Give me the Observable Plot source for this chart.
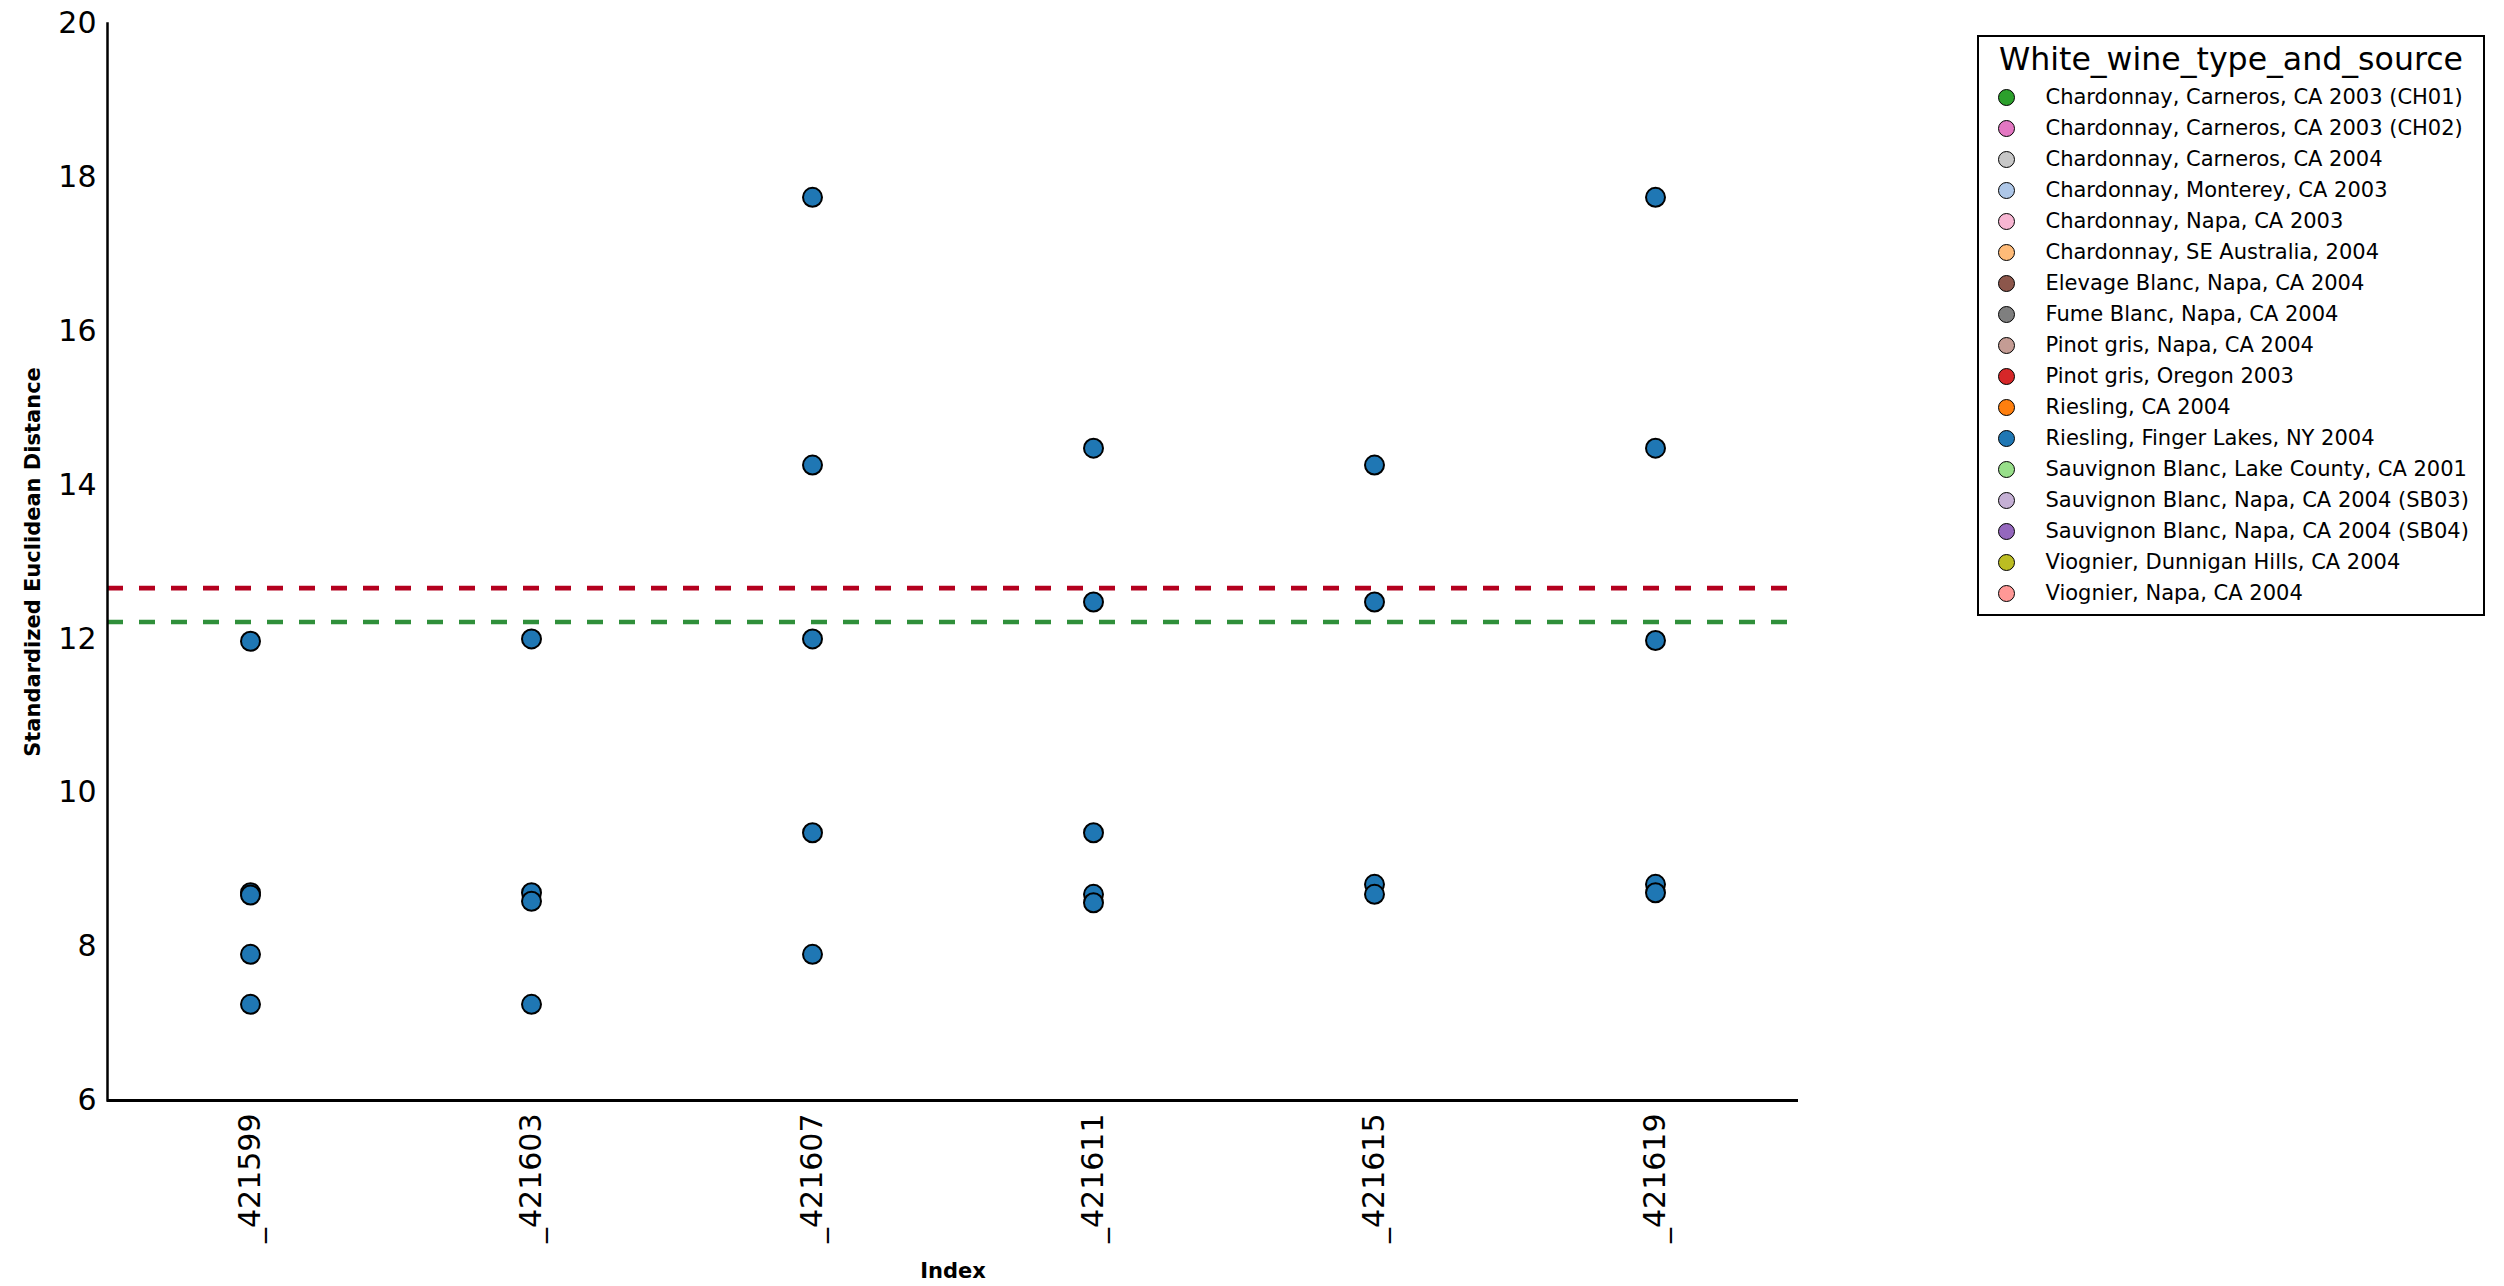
<!DOCTYPE html>
<html>
<head>
<meta charset="utf-8">
<script src="https://cdn.jsdelivr.net/npm/d3@7"></script>
<script src="https://cdn.jsdelivr.net/npm/@observablehq/plot@0.6"></script>
<style>
  html, body { margin: 0; padding: 0; background: #fff; }
  #wrap { position: relative; width: 2504px; height: 1286px; font-family: "DejaVu Sans", sans-serif; color: #000; }
  #chart { position: absolute; left: 0; top: 0; }
  #chart svg { font-family: "DejaVu Sans", sans-serif; }
  #chart g[aria-label="y-axis label"] text,
  #chart g[aria-label="x-axis label"] text { font-size: 21px; font-weight: bold; }
  #legend { position: absolute; left: 1977px; top: 35px; width: 508px; height: 581px; box-sizing: border-box;
            border: 2.5px solid #000; background: #fff; }
  #legend .title { margin-top: 1px; height: 42px; line-height: 42px; text-align: center; font-size: 31.6px; white-space: nowrap; }
  #legend .rows { margin-top: 2px; }
  #legend .row { height: 31px; line-height: 31px; font-size: 21px; white-space: nowrap; display: flex; align-items: center; }
  #legend .sw { display: inline-block; width: 15px; height: 15px; border: 1px solid #000; border-radius: 50%;
                margin-left: 19px; margin-right: 30.5px; flex: none; }
</style>
</head>
<body>
<div id="wrap">
  <div id="chart"></div>
  <div id="legend"></div>
</div>
<script>
// Categories (x tick labels)
const indices = ["_421599", "_421603", "_421607", "_421611", "_421615", "_421619"];

// Standardized Euclidean distances per index
const dist_421599 = [11.97, 8.70, 8.67, 7.90, 7.25];
const dist_421603 = [12.00, 8.70, 8.59, 7.25];
const dist_421607 = [17.74, 14.26, 12.00, 9.48, 7.90];
const dist_421611 = [14.48, 12.48, 9.48, 8.68, 8.57];
const dist_421615 = [14.26, 12.48, 8.81, 8.68];
const dist_421619 = [17.74, 14.48, 11.98, 8.81, 8.70];

// Wine type of every plotted sample
const sampleWine = "Riesling, Finger Lakes, NY 2004";

// Legend categories and colours
const wineTypes = [
  "Chardonnay, Carneros, CA 2003 (CH01)",
  "Chardonnay, Carneros, CA 2003 (CH02)",
  "Chardonnay, Carneros, CA 2004",
  "Chardonnay, Monterey, CA 2003",
  "Chardonnay, Napa, CA 2003",
  "Chardonnay, SE Australia, 2004",
  "Elevage Blanc, Napa, CA 2004",
  "Fume Blanc, Napa, CA 2004",
  "Pinot gris, Napa, CA 2004",
  "Pinot gris, Oregon 2003",
  "Riesling, CA 2004",
  "Riesling, Finger Lakes, NY 2004",
  "Sauvignon Blanc, Lake County, CA 2001",
  "Sauvignon Blanc, Napa, CA 2004 (SB03)",
  "Sauvignon Blanc, Napa, CA 2004 (SB04)",
  "Viognier, Dunnigan Hills, CA 2004",
  "Viognier, Napa, CA 2004"
];
const wineColors = [
  "#2ca02c", "#e377c2", "#c7c7c7", "#aec7e8", "#f7b6d2", "#ffbb78",
  "#8c564b", "#7f7f7f", "#c49c94", "#d62728", "#ff7f0e", "#1f77b4",
  "#98df8a", "#c5b0d5", "#9467bd", "#bcbd22", "#ff9896"
];

// Threshold lines
const thresholdValues = [12.66, 12.22];
const thresholdColors = ["#b4001e", "#2f8f3a"];

// y ticks
const yTicks = [6, 8, 10, 12, 14, 16, 18, 20];

const distLists = [dist_421599, dist_421603, dist_421607, dist_421611, dist_421615, dist_421619];
const rows = [];
indices.forEach((idx, i) => distLists[i].forEach(v => rows.push({index: idx, distance: v, wine: sampleWine})));
const thresholds = thresholdValues.map((v, i) => ({value: v, color: thresholdColors[i]}));

const chart = Plot.plot({
  width: 1830,
  height: 1286,
  marginLeft: 107,
  marginRight: 32,
  marginTop: 23,
  marginBottom: 186,
  style: {fontFamily: "DejaVu Sans, sans-serif", fontSize: "30px", color: "#000", background: "#fff"},
  x: {type: "point", domain: indices, padding: 0.5},
  y: {domain: [6, 20]},
  color: {domain: wineTypes, range: wineColors},
  marks: [
    Plot.ruleY(thresholds, {y: "value", stroke: "color", strokeWidth: 4.6, strokeDasharray: "16,16"}),
    Plot.ruleY([6], {stroke: "#000", strokeWidth: 3}),
    Plot.frame({anchor: "left", stroke: "#000", strokeWidth: 2.5}),
    Plot.axisY({ticks: yTicks, tickSize: 0, tickPadding: 11, fontSize: 30,
                label: "Standardized Euclidean Distance", labelAnchor: "center", labelArrow: "none", labelOffset: 82}),
    Plot.axisX({tickRotate: -90, tickSize: 0, tickPadding: 13, fontSize: 30,
                label: "Index", labelAnchor: "center", labelArrow: "none", labelOffset: 177}),
    Plot.dot(rows, {x: "index", y: "distance", fill: "wine", stroke: "#000", strokeWidth: 2, r: 9.5, fillOpacity: 1})
  ]
});
document.getElementById("chart").appendChild(chart);

// Legend (HTML, built from the arrays)
const legend = document.getElementById("legend");
const title = document.createElement("div");
title.className = "title";
title.textContent = "White_wine_type_and_source";
legend.appendChild(title);
const rowsDiv = document.createElement("div");
rowsDiv.className = "rows";
wineTypes.forEach((w, i) => {
  const r = document.createElement("div");
  r.className = "row";
  const sw = document.createElement("span");
  sw.className = "sw";
  sw.style.background = wineColors[i];
  const t = document.createElement("span");
  t.textContent = w;
  r.appendChild(sw);
  r.appendChild(t);
  rowsDiv.appendChild(r);
});
legend.appendChild(rowsDiv);
</script>
</body>
</html>
